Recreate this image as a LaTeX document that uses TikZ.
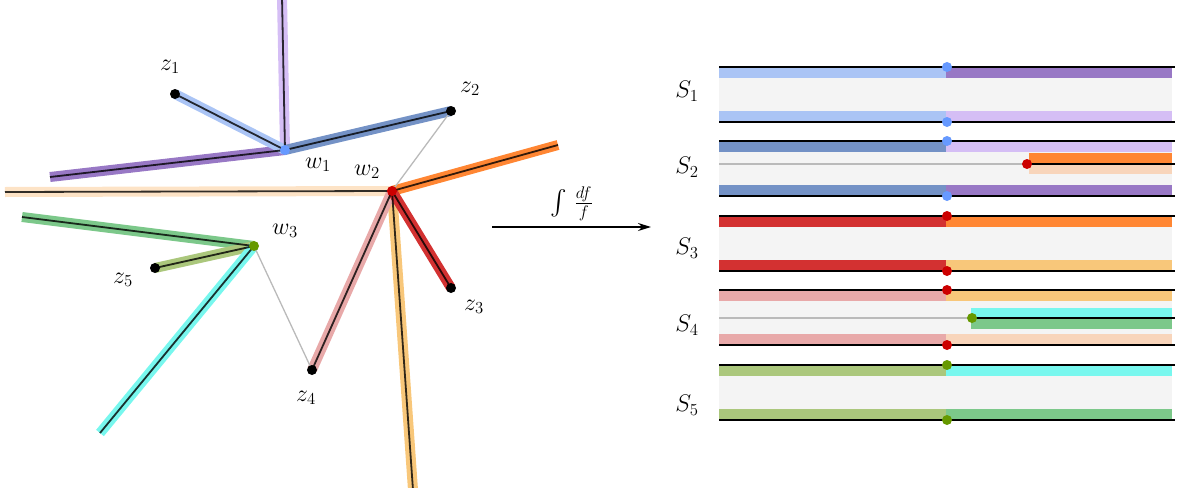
\RequirePackage{fix-cm}
\documentclass[tikz,border=0pt]{standalone}
\usepackage{exscale}
\usetikzlibrary{arrows.meta,positioning,calc}
\definecolor{lblue}{RGB}{170,196,245}
\definecolor{purp}{RGB}{152,120,197}
\definecolor{lpurp}{RGB}{213,190,245}
\definecolor{sblue}{RGB}{116,146,198}
\definecolor{orng}{RGB}{255,134,51}
\definecolor{peach}{RGB}{248,213,187}
\definecolor{lpeach}{RGB}{253,227,198}
\definecolor{rred}{RGB}{211,49,49}
\definecolor{pink1}{RGB}{232,169,169}
\definecolor{yorng}{RGB}{248,199,122}
\definecolor{cyan1}{RGB}{120,247,238}
\definecolor{grn}{RGB}{124,200,138}
\definecolor{olive1}{RGB}{171,199,124}
\definecolor{dotblue}{RGB}{102,153,255}
\definecolor{dotred}{RGB}{204,0,0}
\definecolor{dotgreen}{RGB}{102,153,0}
\definecolor{sheetbg}{RGB}{244,244,244}

\begin{document}
\begin{tikzpicture}[x=1pt,y=-1pt,
  band/.style={line width=10pt,draw=#1},
  core/.style={line width=1.8pt,draw=black,draw opacity=.8},
  graylink/.style={line width=1.3pt,draw=black!27},
  lbl/.style={font=\fontsize{24}{28}\selectfont,inner sep=0pt}]
\useasboundingbox (0,0) rectangle (1177,487);
% vertices of the graph
\coordinate (w1) at (285,150);
\coordinate (w2) at (392,191);
\coordinate (w3) at (254,246);
\coordinate (z1) at (175,94);
\coordinate (z2) at (451,111);
\coordinate (z3) at (451,288);
\coordinate (z4) at (312,370);
\coordinate (z5) at (155,268);
% free ends
\coordinate (w1up) at (282,-3);
\coordinate (w1left) at (50,177);
\coordinate (w2left) at (5,192);
\coordinate (w2right) at (558,145);
\coordinate (w2down) at (413,490);
\coordinate (w3left) at (22,217);
\coordinate (w3down) at (100,433);
% edges
\foreach \a/\b/\c in {w1/w1up/lpurp,w1/w1left/purp,w1/z1/lblue,w1/z2/sblue,w2/w2left/lpeach,w2/w2right/orng,w2/w2down/yorng,w2/z4/pink1,w2/z3/rred,w3/w3left/grn,w3/z5/olive1,w3/w3down/cyan1}{\draw[band=\c] (\a)--(\b);}
\foreach \a/\b in {w1/w1up,w1/w1left,w1/z1,w1/z2,w2/w2left,w2/w2right,w2/w2down,w2/z4,w2/z3,w3/w3left,w3/z5,w3/w3down}{\draw[core] (\a)--(\b);}
\draw[graylink] (z2)--(w2);
\draw[graylink] (w3)--(z4);
\foreach \v in {z1,z2,z3,z4,z5}{\fill (\v) circle (5);}
\fill[dotblue] (w1) circle (5);
\fill[dotred] (w2) circle (5);
\fill[dotgreen] (w3) circle (5);
% labels
\node[lbl] (lz1) at ($(z1)+(-5,-27)$) {$z_1$};
\node[lbl] (lz2) at ($(z2)+(19,-22)$) {$z_2$};
\node[lbl] (lz3) at ($(z3)+(23,19)$) {$z_3$};
\node[lbl] (lz4) at ($(z4)+(-6,28)$) {$z_4$};
\node[lbl] (lz5) at ($(z5)+(-32,12)$) {$z_5$};
\node[lbl] (lw1) at ($(w1)+(33,15)$) {$w_1$};
\node[lbl] (lw2) at ($(w2)+(-25,-19)$) {$w_2$};
\node[lbl] (lw3) at ($(w3)+(31,-15)$) {$w_3$};
% map
\coordinate (arrS) at (492,227);
\coordinate (arrE) at (651,227);
\draw[line width=1.6pt,-{Stealth[length=13pt,width=8pt]}] (arrS)--node[lbl,above=5pt] (intl) {$\int\,\frac{df}{f}$} (arrE);
% sheets
\foreach \n/\yt/\ly/\ca/\cb/\cc/\cd/\cv in {1/67/91/lblue/purp/lblue/lpurp/dotblue,2/141/167/sblue/lpurp/sblue/purp/dotblue,3/216/248/rred/orng/rred/yorng/dotred,4/290/325/pink1/yorng/pink1/peach/dotred,5/365/405/olive1/cyan1/olive1/grn/dotgreen}{
  \fill[sheetbg] (719,\yt) rectangle (1172,\yt+55);
  \fill[\ca] (719,\yt) rectangle (946,\yt+11);
  \fill[\cb] (946,\yt) rectangle (1172,\yt+11);
  \fill[\cc] (719,\yt+44) rectangle (946,\yt+55);
  \fill[\cd] (946,\yt+44) rectangle (1172,\yt+55);
  \draw[line width=1.8pt] (719,\yt)--(1175,\yt);
  \draw[line width=1.8pt] (719,\yt+55)--(1175,\yt+55);
  \fill[\cv] (947,\yt) circle (5);
  \fill[\cv] (947,\yt+55) circle (5);
  \node[lbl] (S\n) at (687,\ly) {$S_{\n}$};
}
% middle cuts of S2 and S4
\fill[orng] (1029,153) rectangle (1172,164);
\fill[peach] (1029,164) rectangle (1172,174);
\draw[graylink] (719,164)--(1027,164);
\draw[line width=1.5pt] (1027,164)--(1175,164);
\fill[dotred] (1027,164) circle (5);
\fill[cyan1] (971,308) rectangle (1172,318);
\fill[grn] (971,318) rectangle (1172,329);
\draw[graylink] (719,318)--(972,318);
\draw[line width=1.5pt] (972,318)--(1175,318);
\fill[dotgreen] (972,318) circle (5);
\end{tikzpicture}
\end{document}
